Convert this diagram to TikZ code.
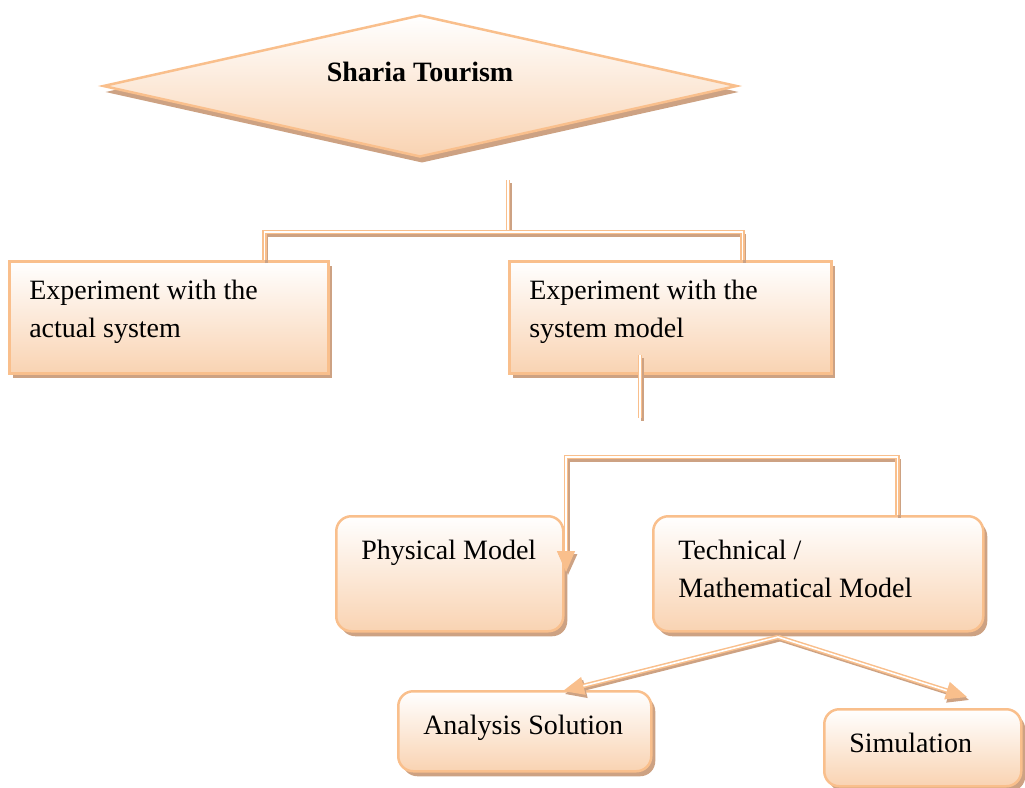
\documentclass[tikz,border=0pt]{standalone}
\usepackage{fontspec}
\setmainfont{Liberation Serif}
\usetikzlibrary{shapes.geometric,shadows,arrows.meta}
\definecolor{edge}{HTML}{F9BF8C}
\definecolor{peach}{HTML}{F9D3B2}
\definecolor{umber}{HTML}{CDA283}
\newcommand{\cell}[3]{\parbox[c][#2pt][t]{#1pt}{#3}}

\begin{document}
\begin{tikzpicture}[x=1pt, y=-1pt,
    every node/.style={font=\fontsize{28}{38}\selectfont},
    base/.style={draw=edge, line width=2.5pt, top color=white, bottom color=peach},
    sqbox/.style={base, anchor=north west, inner xsep=20pt, inner ysep=19pt, align=left,
        drop shadow={shadow xshift=4pt, shadow yshift=-5pt, fill=umber, opacity=1}},
    rbox/.style={base, anchor=north west, rounded corners=15pt, inner xsep=25pt, inner ysep=24pt, align=left,
        drop shadow={shadow xshift=4pt, shadow yshift=-5pt, fill=umber, opacity=1}},
    diam/.style={base, shape=diamond, aspect=4.46, minimum width=634pt, minimum height=142pt, inner sep=0pt,
        drop shadow={shadow xshift=2pt, shadow yshift=-6pt, fill=umber, opacity=1}},
    link/.style={draw=edge, line width=1.5pt, double=white, double distance=1.6pt},
    lineshadow/.style={draw=umber, line width=3pt, transform canvas={shift={(2pt,-3pt)}}},
    tip/.style={-{Triangle[length=21pt,width=18pt]}}]
    \useasboundingbox (0,0) rectangle (1025,787);
    \node[diam] (top) at (420,86) {\raisebox{28pt}{\textbf{Sharia Tourism}}};
    \node[sqbox] (act) at (8,260) {\cell{279}{74}{Experiment with the\\actual system}};
    \node[sqbox] (mdl) at (508,260) {\cell{282}{74}{Experiment with the\\system model}};
    \node[rbox] (phys) at (335,515) {\cell{177}{67}{Physical Model}};
    \node[rbox] (tech) at (652,515) {\cell{280}{67}{Technical /\\Mathematical Model}};
    \node[rbox] (anl) at (397,690) {\cell{203}{32}{Analysis Solution}};
    \node[rbox] (sim) at (823,708) {\cell{147}{29}{Simulation}};
    \coordinate (t1) at (508,180);
    \coordinate (fork) at (508,232);
    \coordinate (m1) at (640,355);
    \coordinate (m2) at (640,418);
    \coordinate (p2) at (566,572);
    \coordinate (split) at (778,637);
    \coordinate (a2) at (563,691);
    \coordinate (s2) at (967,697);
    \foreach \s in {lineshadow,link}{
        \draw[\s] (t1) -- (fork);
        \draw[\s] ([xshift=-65pt]act.north east) |- (fork) -| ([xshift=-90pt]mdl.north east);
        \draw[\s] (m1) -- (m2);
        \draw[\s, tip] ([xshift=-87pt]tech.north east) -- ++(0,-58) -| (p2);
        \draw[\s, tip] (split) -- (a2);
        \draw[\s, tip] (split) -- (s2);
    }
\end{tikzpicture}
\end{document}
